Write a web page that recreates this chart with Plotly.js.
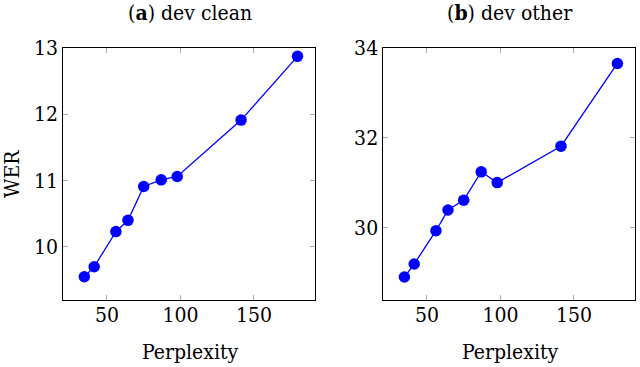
<!DOCTYPE html>
<html>
<head>
<meta charset="utf-8">
<script src="https://cdn.plot.ly/plotly-3.0.1.min.js"></script>
<style>
  html, body { margin: 0; padding: 0; background: #fff; }
  #chart { width: 640px; height: 367px; }
</style>
</head>
<body>
<div id="chart"></div>
<script>
// perplexity of each language model (same for both panels)
var perplexity = [34.6, 41.3, 56.1, 64.3, 75, 86.9, 97.8, 141.2, 179.6];
// WER on dev clean and dev other
var werClean = [9.55, 9.70, 10.23, 10.40, 10.91, 11.01, 11.06, 11.91, 12.87];
var werOther = [28.90, 29.19, 29.93, 30.39, 30.61, 31.24, 31.00, 31.81, 33.65];
var xTicks = [50, 100, 150];
var cleanTicks = [10, 11, 12, 13];
var otherTicks = [30, 32, 34];

var blue = '#0000ff';
var serif = 'DejaVu Serif Condensed, DejaVu Serif';

function series(y, xa, ya) {
  return {
    x: perplexity, y: y, xaxis: xa, yaxis: ya,
    type: 'scatter', mode: 'lines+markers',
    line: { color: blue, width: 1.3 },
    marker: { color: blue, size: 11.5 },
    showlegend: false, hoverinfo: 'none'
  };
}

function xAxis(domain, anchor) {
  return {
    domain: domain, anchor: anchor, range: [20.3, 191.5],
    tickvals: xTicks, ticks: 'inside', ticklen: 5, tickcolor: '#aaa',
    ticklabelstandoff: -4,
    showline: true, linecolor: '#000', linewidth: 1, mirror: 'ticks',
    showgrid: false, zeroline: false,
    tickfont: { family: serif, size: 21, color: '#000' }
  };
}

function yAxis(domain, anchor, range, ticks) {
  return {
    domain: domain, anchor: anchor, range: range,
    tickvals: ticks, ticks: 'inside', ticklen: 5, tickcolor: '#aaa',
    showline: true, linecolor: '#000', linewidth: 1, mirror: 'ticks',
    showgrid: false, zeroline: false,
    tickfont: { family: serif, size: 21, color: '#000' }
  };
}

function label(text, x, y, angle) {
  return {
    text: text, xref: 'paper', yref: 'paper', x: x / 640, y: 1 - y / 367,
    xanchor: 'center', yanchor: 'middle', textangle: angle || 0,
    showarrow: false, font: { family: serif, size: 21, color: '#000' }
  };
}

var yDom = [0.1826, 0.870];

var layout = {
  width: 640, height: 367,
  margin: { l: 0, r: 0, t: 0, b: 0 },
  paper_bgcolor: '#fff', plot_bgcolor: '#fff',
  xaxis: xAxis([0.0989, 0.4922], 'y'),
  yaxis: yAxis(yDom, 'x', [9.2, 13.0], cleanTicks),
  xaxis2: xAxis([0.599, 0.992], 'y2'),
  yaxis2: yAxis(yDom, 'x2', [28.39, 34.0], otherTicks),
  annotations: [
    label('(<b>a</b>) dev clean', 190, 13),
    label('(<b>b</b>) dev other', 510, 13),
    label('Perplexity', 190, 352),
    label('Perplexity', 510, 352),
    label('WER', 12, 174, -90)
  ]
};

Plotly.newPlot('chart', [series(werClean, 'x', 'y'), series(werOther, 'x2', 'y2')], layout,
  { displayModeBar: false, staticPlot: true });
</script>
</body>
</html>
